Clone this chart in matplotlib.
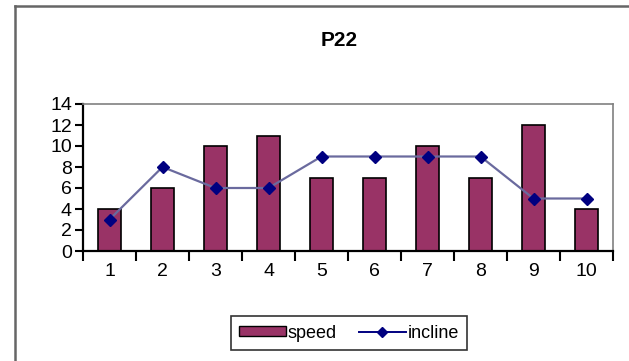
import matplotlib
matplotlib.use('Agg')
import matplotlib.pyplot as plt
from matplotlib.lines import Line2D
import numpy as np

plt.rcParams['font.family'] = ['Liberation Sans', 'DejaVu Sans']

sessions = [1, 2, 3, 4, 5, 6, 7, 8, 9, 10]
speed = [4, 6, 10, 11, 7, 7, 10, 7, 12, 4]
incline = [3, 8, 6, 6, 9, 9, 9, 9, 5, 5]

BAR_COLOR = '#993366'
LINE_COLOR = '#6a6a9e'
MARKER_COLOR = '#000080'

fig = plt.figure(figsize=(6.29, 3.61), dpi=100)

# outer chart frame (left and top edges only visible)
fig.add_artist(Line2D([15 / 629, 15 / 629], [0, 1 - 6 / 361], color='#666666', lw=1.8))
fig.add_artist(Line2D([15 / 629, 1], [1 - 6 / 361, 1 - 6 / 361], color='#666666', lw=1.8))

ax = fig.add_axes([83 / 629, 1 - 251 / 361, (613 - 83) / 629, (251 - 104) / 361])

x = np.array(sessions)
ax.bar(x, speed, width=0.43, color=BAR_COLOR, edgecolor='black', linewidth=1.2, zorder=2)
ax.plot(x, incline, color=LINE_COLOR, lw=1.6, marker='D', markersize=6,
        markerfacecolor=MARKER_COLOR, markeredgecolor=MARKER_COLOR, zorder=3)

ax.set_xlim(0.5, 10.5)
ax.set_ylim(0, 14)
ax.set_yticks(range(0, 15, 2))
ax.set_xticks(x)
ax.set_xticks(np.arange(0.5, 11, 1), minor=True)
ax.tick_params(axis='x', which='major', length=0, pad=9, labelsize=14)
ax.tick_params(axis='x', which='minor', length=7, width=1.5, direction='out')
ax.tick_params(axis='y', length=6, width=1.5, direction='out', pad=2, labelsize=14)

for s in ['left', 'bottom']:
    ax.spines[s].set_color('black')
    ax.spines[s].set_linewidth(1.6)
for s in ['top', 'right']:
    ax.spines[s].set_color('#808080')
    ax.spines[s].set_linewidth(1.2)

fig.text(0.54, 1 - 40 / 361, 'P22', ha='center', va='center', fontsize=15, fontweight='bold')

handles = [plt.Rectangle((0, 0), 1, 1, facecolor=BAR_COLOR, edgecolor='black', lw=1),
           Line2D([], [], color=MARKER_COLOR, lw=1.4, marker='D', markersize=5)]
leg = fig.legend(handles, ['speed', 'incline'], loc='center',
                 bbox_to_anchor=(349 / 629, 1 - 333 / 361), ncol=2, fontsize=13,
                 frameon=True, fancybox=False, edgecolor='black',
                 handlelength=2.6, handleheight=0.5, handletextpad=0.1,
                 columnspacing=1.2, borderpad=0.45)
leg.get_frame().set_linewidth(1.2)

fig.savefig('out.png', dpi=100)
